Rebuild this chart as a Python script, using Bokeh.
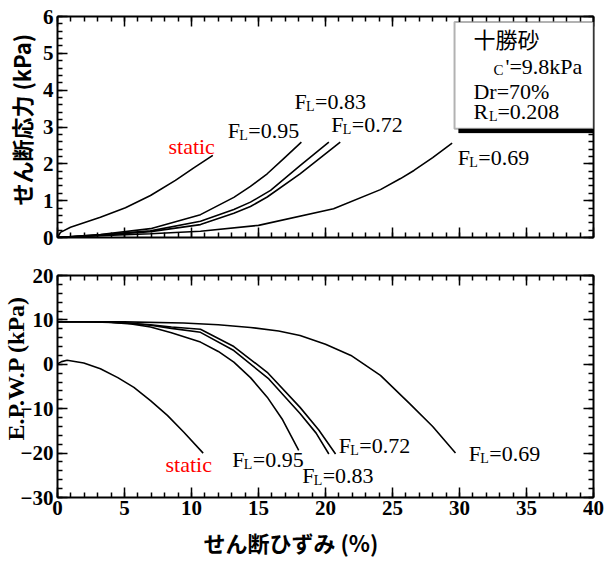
import math
from bokeh.plotting import figure
from bokeh.models import (Range1d, LinearAxis, SingleIntervalTicker, Label, BoxAnnotation,
                          Title, CustomJSTickFormatter)
from bokeh.layouts import column
from bokeh.embed import file_html
from bokeh.resources import INLINE

# ---------------- data (strain %, shear stress kPa) ----------------
static_top_x = [0, 0.22, 0.97, 3.2, 5.07, 6.94, 8.8, 10.17, 11.59]
static_top_y = [0, 0.14, 0.28, 0.55, 0.81, 1.14, 1.55, 1.89, 2.23]

fl095_top_x = [0, 3.2, 6.94, 10.67, 13.16, 14.4, 15.65, 16.9, 18.2]
fl095_top_y = [0, 0.08, 0.24, 0.62, 1.09, 1.39, 1.73, 2.15, 2.59]

fl083_top_x = [0, 3.2, 6.94, 10.67, 13.16, 14.4, 15.9, 18.1, 20.25]
fl083_top_y = [0, 0.07, 0.18, 0.44, 0.76, 0.96, 1.28, 1.95, 2.59]

fl072_top_x = [0, 3.2, 6.94, 10.67, 13.16, 14.4, 15.65, 18.1, 21.1]
fl072_top_y = [0, 0.06, 0.16, 0.35, 0.66, 0.84, 1.10, 1.73, 2.59]

fl069_top_x = [0, 3.2, 6.94, 10.67, 15.0, 20.6, 24.1, 25.6, 26.6, 28.0, 29.45]
fl069_top_y = [0, 0.05, 0.10, 0.17, 0.33, 0.78, 1.30, 1.60, 1.82, 2.17, 2.56]

# ---------------- data (strain %, excess pore water pressure kPa) ----------------
static_bot_x = [0, 0.3, 0.72, 1.96, 3.2, 4.5, 5.7, 6.94, 8.2, 9.43, 10.87]
static_bot_y = [0.1, 0.6, 0.9, 0.3, -1.0, -3.0, -5.2, -8.2, -11.5, -15.3, -20.0]

fl095_bot_x = [0, 2, 4, 5.5, 6.94, 8.5, 10.67, 12, 13.16, 14.4, 15.65, 16.8, 18.0]
fl095_bot_y = [9.6, 9.6, 9.4, 9.1, 8.4, 7.1, 5.0, 2.9, 0.5, -3.0, -7.4, -12.5, -19.4]

fl083_bot_x = [0, 3, 5, 6.94, 8.5, 10.67, 13.16, 15.77, 18.1, 19.3, 20.25]
fl083_bot_y = [9.6, 9.6, 9.3, 8.8, 8.1, 7.2, 3.1, -3.3, -11.1, -15.5, -20.2]

fl072_bot_x = [0, 3, 5, 6.94, 8.5, 10.67, 13.16, 15.65, 18.1, 19.5, 20.75]
fl072_bot_y = [9.6, 9.6, 9.35, 8.9, 8.4, 7.9, 4.0, -1.8, -9.7, -14.8, -20.2]

fl069_bot_x = [0, 5, 9.4, 12, 14.4, 16.5, 18.1, 20, 21.9, 24.1, 26.3, 28, 29.7]
fl069_bot_y = [9.6, 9.55, 9.3, 8.9, 8.3, 7.5, 6.5, 4.5, 2.0, -2.5, -8.9, -14.0, -20.0]

fl_values = ["0.95", "0.83", "0.72", "0.69"]

SERIF = "Liberation Serif"
CJK = "Noto Sans CJK JP"

W = 604
BL, BR = 57, 11
DY = 7  # baseline correction for labels (px, upwards)


def style_axis(ax, show_labels):
    ax.axis_line_width = 2
    ax.axis_line_color = "black"
    ax.major_tick_in = 10
    ax.major_tick_out = 0
    ax.minor_tick_in = 5
    ax.minor_tick_out = 0
    ax.major_tick_line_width = 1.5
    ax.minor_tick_line_width = 1.5
    ax.major_tick_line_color = "black"
    ax.minor_tick_line_color = "black"
    ax.major_label_text_font = SERIF
    ax.major_label_text_font_style = "bold"
    ax.major_label_text_color = "black"
    ax.major_label_text_font_size = "21px"
    if not show_labels:
        ax.formatter = CustomJSTickFormatter(code="return ''")
        ax.major_label_text_font_size = "10px"
        ax.major_label_standoff = 0


def make_fig(height, ymin, ymax, ystep, top, bottom, show_x):
    p = figure(width=W, height=height, x_range=Range1d(0, 40), y_range=Range1d(ymin, ymax),
               output_backend="svg", toolbar_location=None,
               min_border_left=BL, min_border_right=BR,
               min_border_top=top, min_border_bottom=bottom)
    p.xgrid.visible = False
    p.ygrid.visible = False
    p.outline_line_color = None
    p.xaxis[0].ticker = SingleIntervalTicker(interval=5, num_minor_ticks=5)
    p.yaxis[0].ticker = SingleIntervalTicker(interval=ystep, num_minor_ticks=5)
    style_axis(p.xaxis[0], show_x)
    if show_x:
        p.xaxis[0].major_label_standoff = 3
    style_axis(p.yaxis[0], True)
    p.yaxis[0].major_label_standoff = 4
    ax_top = LinearAxis(ticker=SingleIntervalTicker(interval=5, num_minor_ticks=5))
    style_axis(ax_top, False)
    p.add_layout(ax_top, "above")
    ax_r = LinearAxis(ticker=SingleIntervalTicker(interval=ystep, num_minor_ticks=5))
    style_axis(ax_r, False)
    p.add_layout(ax_r, "right")
    return p


def put(p, x, y, text, size, font=SERIF, style="normal", color="black",
        align="left", baseline="alphabetic", dx=0, dy=0, corr=DY):
    p.add_layout(Label(x=x, y=y, text=text, x_offset=dx, y_offset=dy + corr,
                       text_font=font, text_font_size=f"{size}px", text_font_style=style,
                       text_color=color, text_align=align, text_baseline=baseline))


def fl_label(p, x, y, val):
    put(p, x, y, "F", 22)
    put(p, x, y, "L", 14, dx=11.5, dy=-5)
    put(p, x, y, "=" + val, 22, dx=20.5)


# ---------------- top plot ----------------
p1 = make_fig(260, 0, 6, 1, 16, 23, False)
for xs, ys in [(static_top_x, static_top_y), (fl095_top_x, fl095_top_y),
               (fl083_top_x, fl083_top_y), (fl072_top_x, fl072_top_y),
               (fl069_top_x, fl069_top_y)]:
    p1.line(xs, ys, line_color="black", line_width=1.6)

put(p1, 8.28, 2.28, "static", 22, color="#ff0000")
fl_label(p1, 12.71, 2.72, fl_values[0])
fl_label(p1, 17.69, 3.51, fl_values[1])
fl_label(p1, 20.43, 2.89, fl_values[2])
fl_label(p1, 29.87, 1.97, fl_values[3])

p1.add_layout(Title(text="せん断応力 (kPa)", align="left", vertical_align="middle",
                    offset=32, standoff=3,
                    text_font=CJK, text_font_style="bold", text_font_size="22px",
                    text_color="black"), "left")

# info box with drop shadow
p1.add_layout(BoxAnnotation(left=29.93, right=40, top=5.74, bottom=2.84,
                            fill_color="black", fill_alpha=1, line_color="black", line_width=1))
p1.add_layout(BoxAnnotation(left=29.63, right=40, top=5.85, bottom=2.95,
                            fill_color="white", fill_alpha=1, line_color="black", line_width=2))
put(p1, 31.04, 5.35, "十勝砂", 22, font=CJK, baseline="middle", corr=2)
put(p1, 32.54, 4.35, "C", 15)
put(p1, 33.43, 4.44, "'=9.8kPa", 22)
put(p1, 31.04, 3.77, "Dr=70%", 22)
put(p1, 31.04, 3.23, "R", 22)
put(p1, 31.04, 3.23, "L", 14, dx=15.5, dy=-5)
put(p1, 31.04, 3.23, "=0.208", 22, dx=24)

# ---------------- bottom plot ----------------
p2 = make_fig(303, -30, 20, 10, 15, 66, True)
for xs, ys in [(static_bot_x, static_bot_y), (fl095_bot_x, fl095_bot_y),
               (fl083_bot_x, fl083_bot_y), (fl072_bot_x, fl072_bot_y),
               (fl069_bot_x, fl069_bot_y)]:
    p2.line(xs, ys, line_color="black", line_width=1.6)

put(p2, 8.06, -24.1, "static", 22, color="#ff0000")
fl_label(p2, 13.04, -23.0, fl_values[0])
fl_label(p2, 18.26, -26.55, fl_values[1])
fl_label(p2, 20.99, -19.8, fl_values[2])
fl_label(p2, 30.69, -21.67, fl_values[3])

p2.add_layout(Title(text="E.P.W.P (kPa)", align="left", vertical_align="middle",
                    offset=57, standoff=-24,
                    text_font=SERIF, text_font_style="bold", text_font_size="24px",
                    text_color="black"), "left")
p2.add_layout(Title(text="せん断ひずみ (%)", align="left", vertical_align="bottom",
                    offset=146, standoff=12,
                    text_font=CJK, text_font_style="bold", text_font_size="22px",
                    text_color="black"), "below")

layout = column(p1, p2, spacing=0)
open("out.html", "w").write(file_html(layout, INLINE))
